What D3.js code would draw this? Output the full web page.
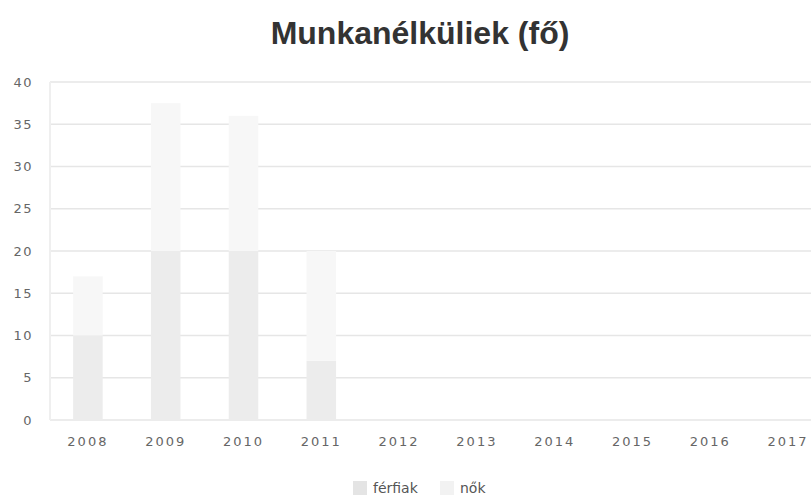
<!DOCTYPE html>
<html><head><meta charset="utf-8">
<script src="https://cdn.jsdelivr.net/npm/d3@7"></script>
<style>body{margin:0;background:#fff}svg{display:block}</style>
</head><body>
<svg id="c" width="811" height="502"></svg>
<script>
const years = ["2008","2009","2010","2011","2012","2013","2014","2015","2016","2017"];
const ferfiak = [10, 20, 20, 7, 0, 0, 0, 0, 0, 0];
const nok = [7, 17.5, 16, 13, 0, 0, 0, 0, 0, 0];
const seriesNames = ["férfiak", "nők"];
const seriesColors = ["#ececec", "#f7f7f7"];
const yTicks = [0,5,10,15,20,25,30,35,40];
const title = "Munkanélküliek (fő)";

const svg = d3.select("#c");
const W = 811, H = 502;
const x = d3.scaleBand().domain(years).range([49, 827]).paddingInner(0.62).paddingOuter(0.31);
const y = d3.scaleLinear().domain([0, 40]).range([420, 82]);

// gridlines
svg.append("g").selectAll("line").data(yTicks).join("line")
  .attr("x1", 50).attr("x2", W).attr("y1", d => y(d)).attr("y2", d => y(d))
  .attr("stroke", "#e6e6e6").attr("stroke-width", 1.5);
svg.append("line").attr("x1", 50).attr("x2", 50).attr("y1", y(40)).attr("y2", y(0))
  .attr("stroke", "#efefef").attr("stroke-width", 2);

// stacked bars
const table = years.map((yr, i) => ({year: yr, "férfiak": ferfiak[i], "nők": nok[i]}));
const stack = d3.stack().keys(seriesNames)(table);
svg.append("g").selectAll("g").data(stack).join("g")
  .attr("fill", (d, i) => seriesColors[i])
  .selectAll("rect").data(d => d).join("rect")
  .attr("x", d => x(d.data.year))
  .attr("width", x.bandwidth())
  .attr("y", d => y(d[1]))
  .attr("height", d => y(d[0]) - y(d[1]));

// y axis labels
svg.append("g").selectAll("text").data(yTicks).join("text")
  .attr("x", 33).attr("y", d => y(d)).attr("dy", "0.35em")
  .attr("text-anchor", "end")
  .attr("font-family", "DejaVu Sans, sans-serif").attr("font-size", 13)
  .attr("letter-spacing", 1.5)
  .attr("fill", "#666").text(d => d);

// x axis labels
svg.append("g").selectAll("text").data(years).join("text")
  .attr("x", d => x(d) + x.bandwidth() / 2).attr("y", 446)
  .attr("text-anchor", "middle")
  .attr("font-family", "DejaVu Sans, sans-serif").attr("font-size", 13)
  .attr("letter-spacing", 2)
  .attr("fill", "#666").text(d => d);

// title
svg.append("text").attr("x", 420).attr("y", 44).attr("text-anchor", "middle")
  .attr("font-family", "Liberation Sans, Arial, sans-serif").attr("font-weight", "bold")
  .attr("font-size", 32).attr("fill", "#333").text(title);

// legend
const leg = svg.append("g");
const legX = [353, 440];
seriesNames.forEach((n, i) => {
  leg.append("rect").attr("x", legX[i]).attr("y", 481).attr("width", 14).attr("height", 14)
    .attr("fill", i === 0 ? "#e4e4e4" : "#f2f2f2");
  leg.append("text").attr("x", legX[i] + 20).attr("y", 493)
    .attr("font-family", "DejaVu Sans, sans-serif").attr("font-size", 14)
    .attr("fill", "#555").text(n);
});
</script>
</body></html>
